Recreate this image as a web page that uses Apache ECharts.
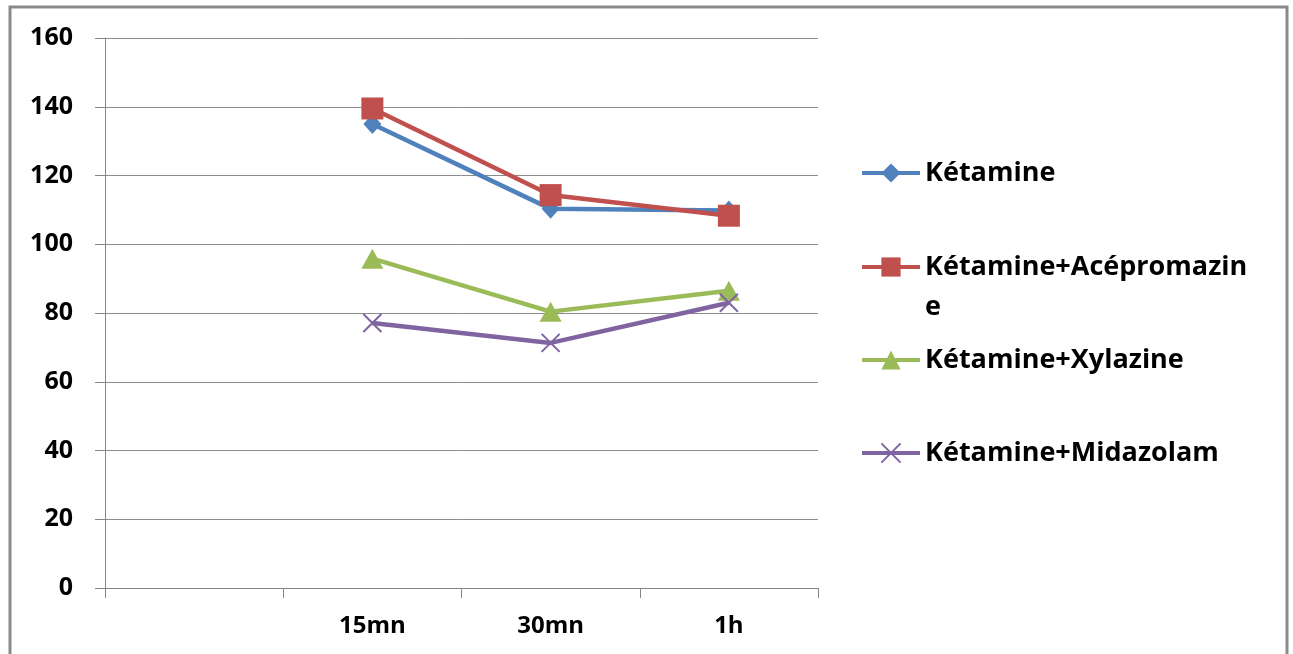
<!DOCTYPE html>
<html>
<head>
<meta charset="utf-8">
<script src="https://cdn.jsdelivr.net/npm/echarts@6/dist/echarts.min.js"></script>
<style>html,body{margin:0;padding:0;background:#fff}#c{width:1293px;height:654px}</style>
</head>
<body>
<div id="c"></div>
<script>
var categories = ['', '15mn', '30mn', '1h'];
var yTicks = [0, 20, 40, 60, 80, 100, 120, 140, 160];
var seriesNames = ['Kétamine', 'Kétamine+Acépromazine', 'Kétamine+Xylazine', 'Kétamine+Midazolam'];
var ketamine = [null, 135, 110.3, 109.8];
var acepromazine = [null, 139.5, 114.3, 108.3];
var xylazine = [null, 95.8, 80.4, 86.5];
var midazolam = [null, 77.1, 71.3, 83];

var colors = ['#4F81BD', '#C0504D', '#9BBB59', '#8064A2'];
var FONT = 'Open Sans';
var chart = echarts.init(document.getElementById('c'));

function legendFor(i, top) {
  return {
    data: [seriesNames[i]], orient: 'vertical', left: 860, top: top, padding: 0,
    itemWidth: 58, itemHeight: 24, selectedMode: false,
    lineStyle: {width: 4},
    formatter: function (n) { return n === 'Kétamine+Acépromazine' ? ' \nKétamine+Acépromazin\ne' : n; },
    textStyle: {fontFamily: FONT, fontWeight: 'bold', fontSize: 27, color: '#000', lineHeight: 40}
  };
}

function mk(i, data, symbol, size, extra) {
  var s = {
    name: seriesNames[i], type: 'line', data: data, symbol: symbol, symbolSize: size,
    connectNulls: false, showSymbol: true,
    lineStyle: {width: 4.5, color: colors[i]},
    itemStyle: {color: colors[i]},
    emphasis: {disabled: true}, animation: false, z: 2 + i
  };
  if (extra) { s.itemStyle = extra; }
  return s;
}

chart.setOption({
  animation: false,
  color: colors,
  grid: {left: 105, right: 475, top: 38, bottom: 66},
  graphic: [{type: 'rect', shape: {x: 10, y: 7, width: 1277, height: 700}, style: {fill: 'none', stroke: '#8a8a8a', lineWidth: 3}, z: 100}],
  legend: [legendFor(0, 153), legendFor(1, 207), legendFor(2, 340), legendFor(3, 433)],
  xAxis: {
    type: 'category', data: categories, boundaryGap: true,
    axisLine: {lineStyle: {color: '#868686', width: 1}},
    axisTick: {show: true, length: 10, lineStyle: {color: '#868686'}},
    axisLabel: {fontFamily: FONT, fontWeight: 'bold', fontSize: 24, color: '#000', margin: 26}
  },
  yAxis: {
    type: 'value', min: yTicks[0], max: yTicks[yTicks.length - 1], interval: 20,
    axisLine: {show: true, lineStyle: {color: '#868686', width: 1}},
    axisTick: {show: true, length: 10, lineStyle: {color: '#868686'}},
    splitLine: {lineStyle: {color: '#8c8c8c', width: 1}},
    axisLabel: {fontFamily: FONT, fontWeight: 'bold', fontSize: 25, color: '#000', margin: 32}
  },
  series: [
    mk(0, ketamine, 'diamond', [18, 20]),
    mk(1, acepromazine, 'rect', 22),
    mk(2, xylazine, 'triangle', [22, 20]),
    mk(3, midazolam, 'path://M0,0L10,10M10,0L0,10', 18, {color: colors[3], borderColor: colors[3], borderWidth: 2})
  ]
});
</script>
</body>
</html>
